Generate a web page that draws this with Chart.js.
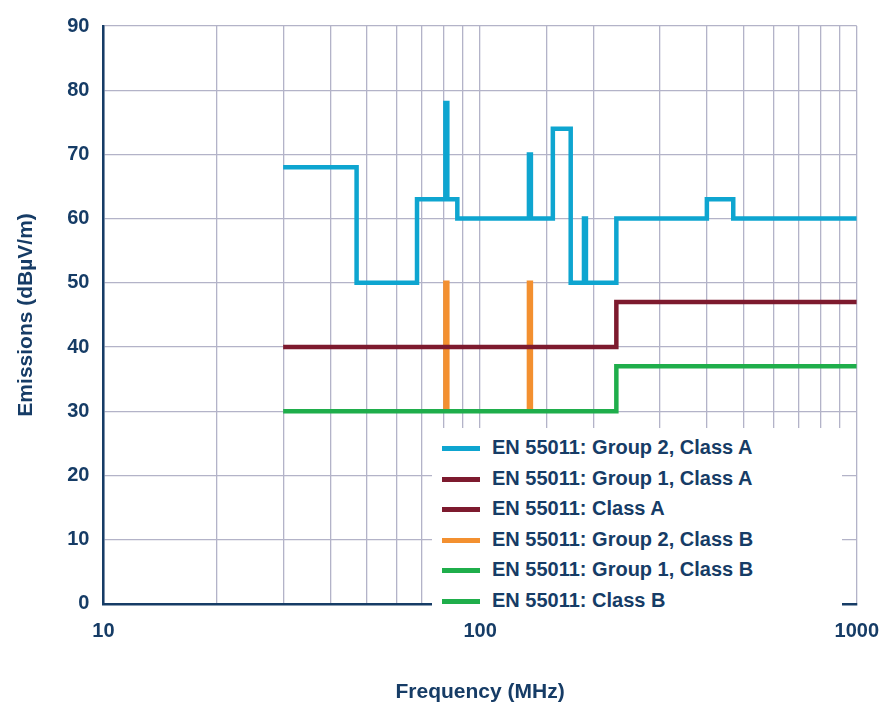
<!DOCTYPE html>
<html><head><meta charset="utf-8">
<script src="https://cdn.jsdelivr.net/npm/chart.js@4"></script>
<style>
body{margin:0;background:#fff;font-family:"Helvetica","Liberation Sans",Arial,sans-serif}
#wrap{position:relative;width:895px;height:715px}
#legend{position:absolute;left:432px;top:428px;width:410px;background:#fff;padding:4px 0;font-weight:bold;font-size:20px;color:#163c66}
#legend div{height:30.5px;line-height:30.5px;white-space:nowrap}
#legend span{display:inline-block;width:38px;height:5px;vertical-align:middle;margin:0 12px 0 10px}
</style></head>
<body><div id="wrap"><canvas id="c" width="895" height="715"></canvas><div id="legend"></div></div>
<script>
const el = (id) => document.getElementById(id);
const NAVY = "#163c66";

// limites (MHz, dBuV/m): [desde, nivel], ultimo punto = fin
const g2A = [[30,68],[47,50],[68,63],[80.872,78],[81.848,63],[87,60],[134.786,70],[136.414,60],[156,74],[174,50],[188.7,60],[190.979,50],[230,60],[400,63],[470,60],[1000,60]];
const g1A = [[30,40],[230,47],[1000,47]];
const g1B = [[30,30],[230,37],[1000,37]];
const g2B = [[80.872,30],[80.872,50],[81.848,50],[81.848,30],[null,null],[134.786,30],[134.786,50],[136.414,50],[136.414,30]];

// escalones -> puntos explicitos
const steps = (arr) => {
    const out = [];
    arr.forEach((p, i) => {
        if (i > 0) out.push({ x: p[0], y: arr[i-1][1] });
        if (i < arr.length - 1) out.push({ x: p[0], y: p[1] });
    });
    return out;
};

const series = [
  { label:"EN 55011: Group 2, Class A", color:"#0ea5d0", data:steps(g2A) },
  { label:"EN 55011: Group 1, Class A", color:"#7d1a2e", data:steps(g1A) },
  { label:"EN 55011: Class A", color:"#7d1a2e", data:[] },
  { label:"EN 55011: Group 2, Class B", color:"#f39030", data:g2B.map(p => ({ x: p[0], y: p[1] })) },
  { label:"EN 55011: Group 1, Class B", color:"#1fae4b", data:steps(g1B) },
  { label:"EN 55011: Class B", color:"#1fae4b", data:[] }
];

el("legend").innerHTML = series.map(s => `<div><span style="background:${s.color}"></span>${s.label}</div>`).join("");

const tickFont = { size: 20, weight: "bold", family: "Liberation Sans" };
new Chart(el("c").getContext("2d"), {
  type: "line",
  data: { datasets: series.map((s, i) => ({
    label: s.label, data: s.data,
    borderColor: s.color, borderWidth: 4.5, pointRadius: 0, fill: false,
    spanGaps: false, order: i == 3 ? 10 : i
  })) },
  options: {
    responsive: false, animation: false,
    layout: { padding: { top: 8, right: 38, left: 10, bottom: 6 } },
    plugins: { legend: { display: false }, tooltip: { enabled: false } },
    scales: {
      x: { type: "logarithmic", min: 10, max: 1000,
        border: { color: NAVY, width: 2.5 },
        grid: { color: "#b3b3c8", lineWidth: 1.3, drawTicks: false },
        ticks: { autoSkip: false, maxRotation: 0, minRotation: 0, padding: 16, color: NAVY, font: tickFont,
          callback: v => [10,100,1000].includes(v) ? String(v) : "" },
        title: { display: true, text: "Frequency (MHz)", color: NAVY, padding: { top: 20 }, font: { size: 21, weight: "bold", family: "Liberation Sans" } }
      },
      y: { min: 0, max: 90,
        border: { color: NAVY, width: 2.5 },
        grid: { color: "#b3b3c8", lineWidth: 1.3, drawTicks: false },
        ticks: { stepSize: 10, padding: 14, color: NAVY, font: tickFont },
        title: { display: true, text: "Emissions (dBµV/m)", color: NAVY, padding: { bottom: 14 }, font: { size: 21, weight: "bold", family: "Liberation Sans" } }
      }
    }
  }
});
</script></body></html>
